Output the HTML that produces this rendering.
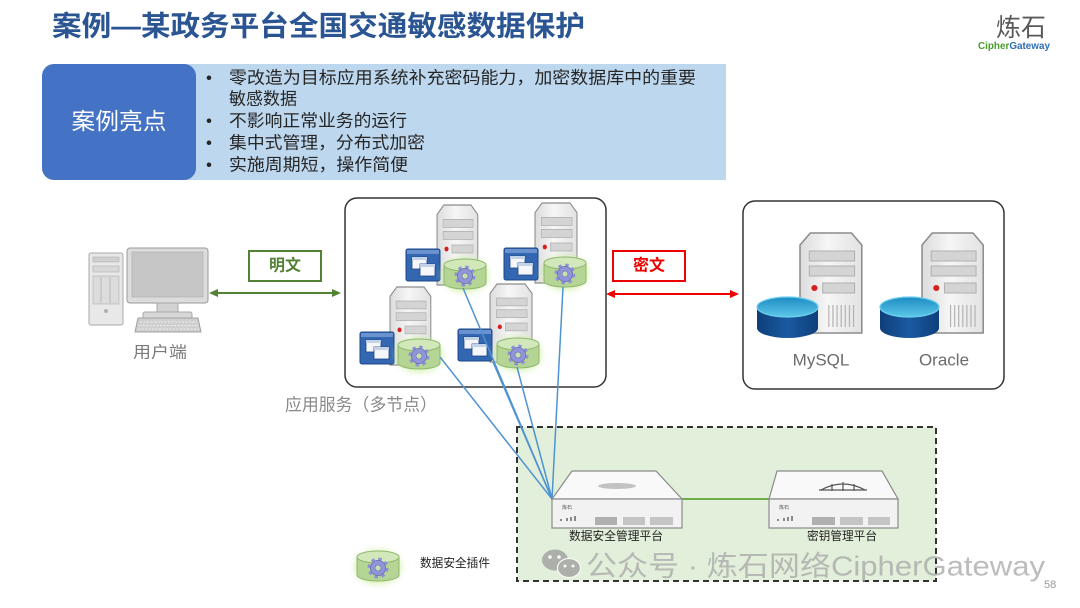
<!DOCTYPE html>
<html><head><meta charset="utf-8">
<style>
html,body{margin:0;padding:0;background:#fff;}
svg{display:block;}
text{font-family:"Liberation Sans","Noto Sans CJK SC",sans-serif;}
</style></head>
<body>
<svg width="1080" height="608" viewBox="0 0 1080 608" xmlns="http://www.w3.org/2000/svg">
<defs>
  <linearGradient id="tg" x1="0" y1="0" x2="1" y2="0">
    <stop offset="0" stop-color="#dcdcdc"/><stop offset="0.45" stop-color="#f6f6f6"/><stop offset="1" stop-color="#e2e2e2"/>
  </linearGradient>
  <linearGradient id="dbtop" x1="0" y1="0" x2="0" y2="1">
    <stop offset="0" stop-color="#1e8cc4"/><stop offset="1" stop-color="#5cc8e8"/>
  </linearGradient>
  <linearGradient id="dbbody" x1="0" y1="0" x2="1" y2="0">
    <stop offset="0" stop-color="#0e3f7a"/><stop offset="0.5" stop-color="#1a5aa2"/><stop offset="1" stop-color="#0e3f7a"/>
  </linearGradient>
  <filter id="blur" x="-50%" y="-50%" width="200%" height="200%"><feGaussianBlur stdDeviation="3"/></filter>
  <g id="tower">
    <polygon points="10,0 50,0 60,12 60,100 0,100 0,12" fill="url(#tg)" stroke="#8c8c8c" stroke-width="1.5"/>
    <rect x="9" y="18" width="44" height="10" fill="#d4d4d4" stroke="#b0b0b0"/>
    <rect x="9" y="33" width="44" height="10" fill="#d4d4d4" stroke="#b0b0b0"/>
    <circle cx="14" cy="55" r="3" fill="#d42020"/>
    <rect x="22" y="50" width="31" height="10" fill="#d4d4d4" stroke="#b0b0b0"/>
    <g stroke="#b4b4b4" stroke-width="1.2">
      <line x1="28" y1="72" x2="28" y2="94"/><line x1="32" y1="72" x2="32" y2="94"/>
      <line x1="36" y1="72" x2="36" y2="94"/><line x1="40" y1="72" x2="40" y2="94"/>
      <line x1="44" y1="72" x2="44" y2="94"/><line x1="48" y1="72" x2="48" y2="94"/>
      <line x1="52" y1="72" x2="52" y2="94"/>
    </g>
  </g>
  <g id="win">
    <rect x="0" y="0" width="34" height="32" rx="2" fill="#3367b2" stroke="#1d4585"/>
    <rect x="1" y="1" width="32" height="4" fill="#6a92cf"/>
    <rect x="6" y="8" width="15" height="12" fill="#f4f6fa" stroke="#1d4585" stroke-width="0.8"/>
    <rect x="6" y="8" width="15" height="3" fill="#c4d2e8"/>
    <rect x="14" y="15" width="15" height="12" fill="#f4f6fa" stroke="#1d4585" stroke-width="0.8"/>
    <rect x="14" y="15" width="15" height="3" fill="#c4d2e8"/>
  </g>
  <g id="plugin">
    <ellipse cx="21" cy="16" rx="24" ry="18" fill="#c8ee98" opacity="0.6" filter="url(#blur)"/>
    <path d="M0,6 V24 A21,6 0 0 0 42,24 V6 Z" fill="#b4d594" stroke="#8fb86d" stroke-width="1"/>
    <ellipse cx="21" cy="6" rx="21" ry="6" fill="#d2e8bb" stroke="#8fb86d" stroke-width="1"/>
    <circle cx="21" cy="17" r="8.8" fill="none" stroke="#8d91d6" stroke-width="3.4" stroke-dasharray="3.3 3.61"/>
    <circle cx="21" cy="17" r="7.6" fill="#9094d8" stroke="#6b6fb0" stroke-width="0.8"/>
    <circle cx="21" cy="17" r="3" fill="#c6dfae" stroke="#6b6fb0" stroke-width="0.6"/>
  </g>
</defs>

<!-- Title -->
<text x="52" y="26" dominant-baseline="central" font-size="28" font-weight="bold" fill="#2a5592" textLength="533" lengthAdjust="spacingAndGlyphs">案例—某政务平台全国交通敏感数据保护</text>

<!-- Logo -->
<text x="1021" y="28" text-anchor="middle" dominant-baseline="central" font-size="25" fill="#595959">炼石</text>
<text x="978" y="46" dominant-baseline="central" font-size="10" font-weight="bold" textLength="72" lengthAdjust="spacingAndGlyphs"><tspan fill="#4a9a2a">Cipher</tspan><tspan fill="#2e6db4">Gateway</tspan></text>

<!-- Highlight box -->
<rect x="180" y="64" width="546" height="116" fill="#bdd7ee"/>
<rect x="42" y="64" width="154" height="116" rx="12" fill="#4472c4"/>
<text x="119" y="121" text-anchor="middle" dominant-baseline="central" font-size="23" fill="#fff" textLength="95" lengthAdjust="spacingAndGlyphs">案例亮点</text>
<g font-size="17" fill="#262626">
  <text x="206" y="78" dominant-baseline="central">•</text>
  <text x="229" y="78" dominant-baseline="central" textLength="467" lengthAdjust="spacingAndGlyphs">零改造为目标应用系统补充密码能力，加密数据库中的重要</text>
  <text x="229" y="99" dominant-baseline="central" textLength="68" lengthAdjust="spacingAndGlyphs">敏感数据</text>
  <text x="206" y="121" dominant-baseline="central">•</text>
  <text x="229" y="121" dominant-baseline="central" textLength="178" lengthAdjust="spacingAndGlyphs">不影响正常业务的运行</text>
  <text x="206" y="143" dominant-baseline="central">•</text>
  <text x="229" y="143" dominant-baseline="central" textLength="196" lengthAdjust="spacingAndGlyphs">集中式管理，分布式加密</text>
  <text x="206" y="165" dominant-baseline="central">•</text>
  <text x="229" y="165" dominant-baseline="central" textLength="179" lengthAdjust="spacingAndGlyphs">实施周期短，操作简便</text>
</g>

<!-- User computer -->
<g>
  <rect x="89" y="253" width="34" height="72" rx="2" fill="#e8e8e8" stroke="#a8a8a8"/>
  <rect x="93" y="257" width="26" height="5" fill="#cfcfcf" stroke="#b0b0b0" stroke-width="0.6"/>
  <rect x="93" y="266" width="26" height="6" fill="#d8d8d8" stroke="#b0b0b0" stroke-width="0.6"/>
  <rect x="93" y="276" width="26" height="28" fill="#dcdcdc" stroke="#b0b0b0" stroke-width="0.6"/>
  <line x1="101" y1="277" x2="101" y2="303" stroke="#b8b8b8"/><line x1="110" y1="277" x2="110" y2="303" stroke="#b8b8b8"/>
  <circle cx="106" cy="311" r="2" fill="#b0b0b0"/>
  <rect x="127" y="248" width="81" height="55" rx="3" fill="#dcdcdc" stroke="#9a9a9a"/>
  <rect x="132" y="252" width="71" height="45" fill="#c6c6c6" stroke="#aaa" stroke-width="0.6"/>
  <rect x="157" y="303" width="21" height="10" fill="#d2d2d2" stroke="#a8a8a8"/>
  <rect x="143" y="312" width="49" height="7" rx="2" fill="#d8d8d8" stroke="#a8a8a8"/>
  <polygon points="138,318 198,318 201,332 135,332" fill="#cfcfcf" stroke="#a0a0a0"/>
  <g stroke="#eeeeee" stroke-width="1" stroke-dasharray="2 1.5">
    <line x1="140" y1="322" x2="197" y2="322"/><line x1="139" y1="325.5" x2="198" y2="325.5"/><line x1="138" y1="329" x2="199" y2="329"/>
  </g>
</g>
<text x="160" y="353" text-anchor="middle" dominant-baseline="central" font-size="16" fill="#7a7a7a" textLength="54" lengthAdjust="spacingAndGlyphs">用户端</text>

<!-- 明文 -->
<rect x="249" y="251" width="72" height="30" fill="#fff" stroke="#548235" stroke-width="2"/>
<text x="285" y="266" text-anchor="middle" dominant-baseline="central" font-size="16" font-weight="bold" fill="#548235">明文</text>
<line x1="214" y1="293" x2="336" y2="293" stroke="#548235" stroke-width="2"/>
<polygon points="209,293 218,289 218,297" fill="#548235"/>
<polygon points="341,293 332,289 332,297" fill="#548235"/>

<!-- 密文 -->
<rect x="613" y="251" width="72" height="30" fill="#fff" stroke="#ee0000" stroke-width="2"/>
<text x="649" y="266" text-anchor="middle" dominant-baseline="central" font-size="16" font-weight="bold" fill="#ee0000">密文</text>
<line x1="611" y1="294" x2="734" y2="294" stroke="#ee0000" stroke-width="2"/>
<polygon points="606,294 615,290 615,298" fill="#ee0000"/>
<polygon points="739,294 730,290 730,298" fill="#ee0000"/>

<!-- App box -->
<rect x="345" y="198" width="261" height="189" rx="12" fill="#fff" stroke="#333" stroke-width="1.5"/>
<use href="#tower" transform="translate(437,205) scale(0.68,0.8)"/>
<use href="#tower" transform="translate(535,203) scale(0.7,0.8)"/>
<use href="#win" transform="translate(406,249)"/>
<use href="#win" transform="translate(504,248)"/>
<use href="#plugin" transform="translate(444,259)"/>
<use href="#plugin" transform="translate(544,257)"/>
<use href="#tower" transform="translate(390,287) scale(0.68,0.78)"/>
<use href="#tower" transform="translate(490,284) scale(0.7,0.78)"/>
<use href="#win" transform="translate(360,332)"/>
<use href="#win" transform="translate(458,329)"/>
<use href="#plugin" transform="translate(398,339)"/>
<use href="#plugin" transform="translate(497,338)"/>
<text x="285" y="405" dominant-baseline="central" font-size="17" fill="#8a8a8a" textLength="152" lengthAdjust="spacingAndGlyphs">应用服务（多节点）</text>

<!-- DB box -->
<rect x="743" y="201" width="261" height="188" rx="12" fill="#fff" stroke="#333" stroke-width="1.5"/>
<use href="#tower" transform="translate(800,233) scale(1.03,1.0)"/>
<use href="#tower" transform="translate(922,233) scale(1.02,1.0)"/>
<path d="M757,307 V328 A30.5,10 0 0 0 818,328 V307 Z" fill="url(#dbbody)"/>
<ellipse cx="787.5" cy="307" rx="30.5" ry="10" fill="url(#dbtop)" stroke="#6fd0f0" stroke-width="1.2"/>
<path d="M880,307 V328 A29.5,10 0 0 0 939,328 V307 Z" fill="url(#dbbody)"/>
<ellipse cx="909.5" cy="307" rx="29.5" ry="10" fill="url(#dbtop)" stroke="#6fd0f0" stroke-width="1.2"/>
<text x="821" y="360" text-anchor="middle" dominant-baseline="central" font-size="17" fill="#6b6b6b">MySQL</text>
<text x="944" y="360" text-anchor="middle" dominant-baseline="central" font-size="17" fill="#6b6b6b">Oracle</text>

<!-- Green dashed zone -->
<rect x="517" y="427" width="419" height="154" fill="#e2efda" stroke="#333" stroke-width="2" stroke-dasharray="6 4"/>

<!-- Connection lines -->
<g stroke="#4f93d2" stroke-width="1.5" fill="none">
  <line x1="463" y1="288" x2="552" y2="499"/>
  <line x1="563" y1="287" x2="552" y2="499"/>
  <line x1="440" y1="357" x2="552" y2="499"/>
  <line x1="493" y1="362" x2="552" y2="499"/>
  <line x1="517" y1="367" x2="552" y2="499"/>
</g>
<line x1="682" y1="499" x2="769" y2="499" stroke="#70ad47" stroke-width="2"/>

<!-- Data security platform device -->
<polygon points="572,471 656,471 682,499 552,499" fill="#f9f9f9" stroke="#8a8a8a" stroke-width="1.2"/>
<ellipse cx="617" cy="486" rx="19" ry="3" fill="#c2c2c2"/>
<rect x="552" y="499" width="130" height="29" fill="#f2f2f2" stroke="#8a8a8a" stroke-width="1.2"/>
<text x="562" y="509" font-size="5" fill="#555">炼石</text>
<g fill="#888"><rect x="560" y="519" width="2" height="2"/><rect x="566" y="518" width="2" height="3"/><rect x="570" y="517" width="2" height="4"/><rect x="574" y="516" width="2" height="5"/></g>
<rect x="595" y="517" width="22" height="8" fill="#b0b0b0"/>
<rect x="623" y="517" width="22" height="8" fill="#c4c4c4"/>
<rect x="650" y="517" width="23" height="8" fill="#c4c4c4"/>

<!-- Key management device -->
<polygon points="777,471 882,471 898,499 769,499" fill="#f9f9f9" stroke="#8a8a8a" stroke-width="1.2"/>
<g stroke="#555" stroke-width="1.2" fill="none">
  <path d="M821,490 Q843,478 865,490"/>
  <line x1="819" y1="490" x2="867" y2="490"/>
  <line x1="832" y1="484" x2="832" y2="491"/><line x1="843" y1="482" x2="843" y2="491"/><line x1="854" y1="484" x2="854" y2="491"/>
</g>
<rect x="769" y="499" width="129" height="29" fill="#f2f2f2" stroke="#8a8a8a" stroke-width="1.2"/>
<text x="779" y="509" font-size="5" fill="#555">炼石</text>
<g fill="#888"><rect x="777" y="519" width="2" height="2"/><rect x="783" y="518" width="2" height="3"/><rect x="787" y="517" width="2" height="4"/><rect x="791" y="516" width="2" height="5"/></g>
<rect x="812" y="517" width="23" height="8" fill="#b0b0b0"/>
<rect x="840" y="517" width="23" height="8" fill="#c4c4c4"/>
<rect x="868" y="517" width="22" height="8" fill="#c4c4c4"/>

<text x="616" y="536" text-anchor="middle" dominant-baseline="central" font-size="12" fill="#222" textLength="94" lengthAdjust="spacingAndGlyphs">数据安全管理平台</text>
<text x="842" y="536" text-anchor="middle" dominant-baseline="central" font-size="12" fill="#222" textLength="70" lengthAdjust="spacingAndGlyphs">密钥管理平台</text>

<!-- Legend -->
<use href="#plugin" transform="translate(357,551)"/>
<text x="420" y="563" dominant-baseline="central" font-size="12" fill="#222" textLength="70" lengthAdjust="spacingAndGlyphs">数据安全插件</text>

<!-- Watermark -->
<g opacity="0.75">
  <ellipse cx="555" cy="560" rx="13" ry="10.5" fill="#9a9a9a"/>
  <ellipse cx="569" cy="568" rx="11.5" ry="9.5" fill="#9a9a9a" stroke="#fff" stroke-width="1.2"/>
  <circle cx="550" cy="557" r="1.8" fill="#fff"/><circle cx="559" cy="557" r="1.8" fill="#fff"/>
  <circle cx="565" cy="566" r="1.5" fill="#fff"/><circle cx="573" cy="566" r="1.5" fill="#fff"/>
  <text x="586" y="566" dominant-baseline="central" font-size="28" fill="#a6a6a6" textLength="459" lengthAdjust="spacingAndGlyphs">公众号 · 炼石网络CipherGateway</text>
</g>
<text x="1044" y="585" dominant-baseline="central" font-size="11" fill="#999">58</text>
</svg>
</body></html>
